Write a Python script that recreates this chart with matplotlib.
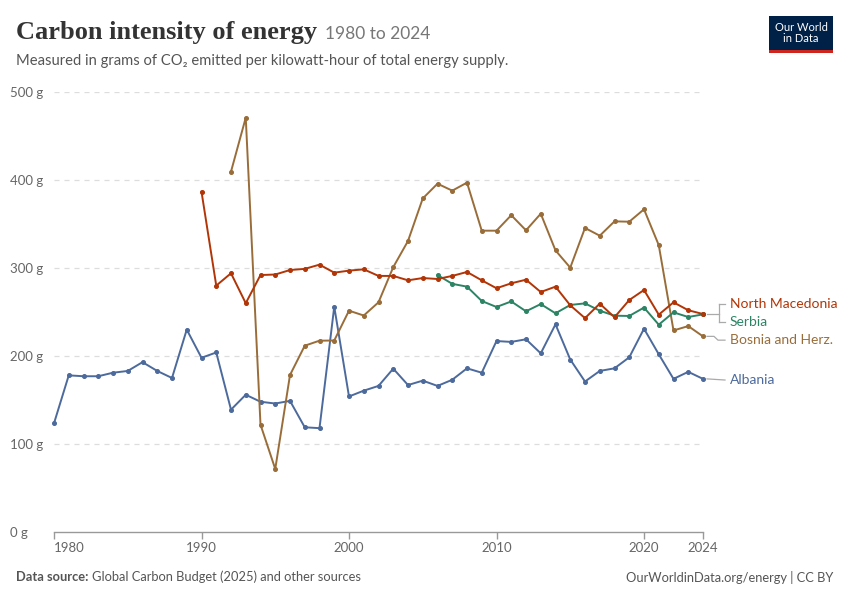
import matplotlib
matplotlib.use("Agg")
import matplotlib.pyplot as plt
from matplotlib.patches import Rectangle
import numpy as np

years_alb = list(range(1980, 2025))
albania = [123.5, 178, 177, 177, 181, 183, 193, 183, 175, 230,
           198, 204, 139, 156, 148, 146, 149, 119, 118, 256,
           154, 160.6, 166, 185.6, 167, 172, 166, 173, 186, 181,
           217, 216, 219, 203, 236, 196, 171, 183, 186, 198.5,
           231, 202, 174, 182, 174]

years_mkd = list(range(1990, 2025))
north_macedonia = [386.7, 280, 294, 260, 292, 292.6, 297.7, 299, 303.8, 294.7,
                   297, 298.5, 291, 291, 286, 288.6, 287.5, 291, 295.5, 286,
                   277, 282.6, 286.7, 272.7, 278.8, 257.6, 243, 259.5, 244, 263.6,
                   275, 247, 261, 252, 247.7]

years_srb = list(range(2006, 2025))
serbia = [292, 282, 278.8, 262.5, 255.7, 262, 250.8, 259, 248.5, 258,
          259.8, 251.5, 245.8, 245.5, 255, 235.6, 249.6, 244.3, 247.3]

years_bih = list(range(1992, 2025))
bosnia = [409.5, 470.8, 122, 71.6, 178.4, 211.7, 217.4, 217.6, 251.5, 246,
          261, 301, 330.7, 379, 395.8, 387.9, 397, 342.4, 342.4, 360,
          342.8, 361.7, 320, 300.4, 345.5, 336.7, 353, 352.6, 366.7, 326,
          229, 234, 222.3]

names = ["North Macedonia", "Serbia", "Bosnia and Herz.", "Albania"]
colors = ["#B13507", "#2C8465", "#996D39", "#4C6A9C"]
label_y = [259, 238.6, 218, 172.7]  # label positions (de-overlapped)

yticks = [0, 100, 200, 300, 400, 500]
xticks = [1980, 1990, 2000, 2010, 2020, 2024]

plt.rcParams['font.family'] = ['Lato', 'DejaVu Sans']

W, H = 850, 600
fig = plt.figure(figsize=(W / 100, H / 100), dpi=100)
ax = fig.add_axes([54 / W, (H - 532) / H, (703 - 54) / W, (532 - 92) / H])
ax.set_xlim(1980, 2024)
ax.set_ylim(0, 500)

series = [(years_mkd, north_macedonia), (years_srb, serbia),
          (years_bih, bosnia), (years_alb, albania)]
for (xs, ys), c in zip(series[::-1], colors[::-1]):
    ax.plot(xs, ys, color=c, lw=1.4, marker='o', ms=2.6, clip_on=False, zorder=3)

# grid
for v in yticks[1:]:
    ax.axhline(v, color="#dddddd", lw=0.9, ls=(0, (4, 4)), zorder=1)
for s in ["top", "right", "left"]:
    ax.spines[s].set_visible(False)
ax.spines["bottom"].set_color("#999999")
ax.spines["bottom"].set_linewidth(1)
ax.set_yticks(yticks)
ax.set_yticklabels([f"{v} g" for v in yticks])
ax.tick_params(axis='y', length=0, pad=4, labelsize=9.5, labelcolor="#666666")
for lab in ax.get_yticklabels():
    lab.set_horizontalalignment('left')
    lab.set_x(-38 / (703 - 54))
ax.set_xticks(xticks)
ax.set_xticklabels([str(x) for x in xticks])
ax.tick_params(axis='x', length=5, color="#999999", width=1, pad=2,
               labelsize=9.5, labelcolor="#666666")
xl = ax.get_xticklabels()
xl[0].set_horizontalalignment('left')

# connectors and labels
ends = [north_macedonia[-1], serbia[-1], bosnia[-1], albania[-1]]
px = 14.75  # pixels per year
def dx(p):
    return 2024 + p / px

ymid = (ends[0] + ends[1]) / 2
ax.plot([dx(4), dx(16)], [ymid, ymid], color="#aaaaaa", lw=0.9, clip_on=False)
ax.plot([dx(16), dx(16)], [label_y[0], label_y[1]], color="#aaaaaa", lw=0.9, clip_on=False)
for ly in label_y[:2]:
    ax.plot([dx(16), dx(22)], [ly, ly], color="#aaaaaa", lw=0.9, clip_on=False)
ax.plot([dx(4), dx(11), dx(15), dx(22)], [ends[2], ends[2], label_y[2], label_y[2]],
        color="#aaaaaa", lw=0.9, clip_on=False)
ax.plot([dx(4), dx(22)], [ends[3], label_y[3]], color="#aaaaaa", lw=0.9, clip_on=False)

for n, c, ly in zip(names, colors, label_y):
    ax.text(dx(27), ly, n, color=c, fontsize=10, va='center', ha='left')

# titles
tt = fig.text(16 / W, 1 - 33 / H, "Carbon intensity of energy", fontsize=19,
              family=['Liberation Serif', 'DejaVu Serif'], color="#333333",
              va='center', weight='bold')
fig.canvas.draw()
tb = tt.get_window_extent()
fig.text((tb.x1 + 8) / W, 1 - 34 / H, "1980 to 2024", fontsize=12.5, color="#777777",
         va='center')
fig.text(16 / W, 1 - 61 / H,
         "Measured in grams of CO\u2082 emitted per kilowatt-hour of total energy supply.",
         fontsize=10.65, color="#555555", va='center')

# logo
fig.patches.append(Rectangle((769 / W, 1 - 51 / H), 64 / W, 35 / H, transform=fig.transFigure,
                             facecolor="#002147", edgecolor='none'))
fig.patches.append(Rectangle((769 / W, 1 - 53 / H), 64 / W, 3 / H, transform=fig.transFigure,
                             facecolor="#CE261E", edgecolor='none'))
fig.text(801 / W, 1 - 33 / H, "Our World\nin Data", color="white", fontsize=8,
         ha='center', va='center', linespacing=1.05)

# footer
t = fig.text(16 / W, 1 - 577 / H, "Data source:", fontsize=9.3, color="#555555",
             weight='bold', va='center')
fig.canvas.draw()
bb = t.get_window_extent()
fig.text((bb.x1 + 4) / W, 1 - 577 / H, "Global Carbon Budget (2025) and other sources",
         fontsize=9.3, color="#555555", va='center')
fig.text(833 / W, 1 - 577 / H, "OurWorldinData.org/energy | CC BY", fontsize=9.3,
         color="#555555", va='center', ha='right')

fig.savefig("out.png", dpi=100)
